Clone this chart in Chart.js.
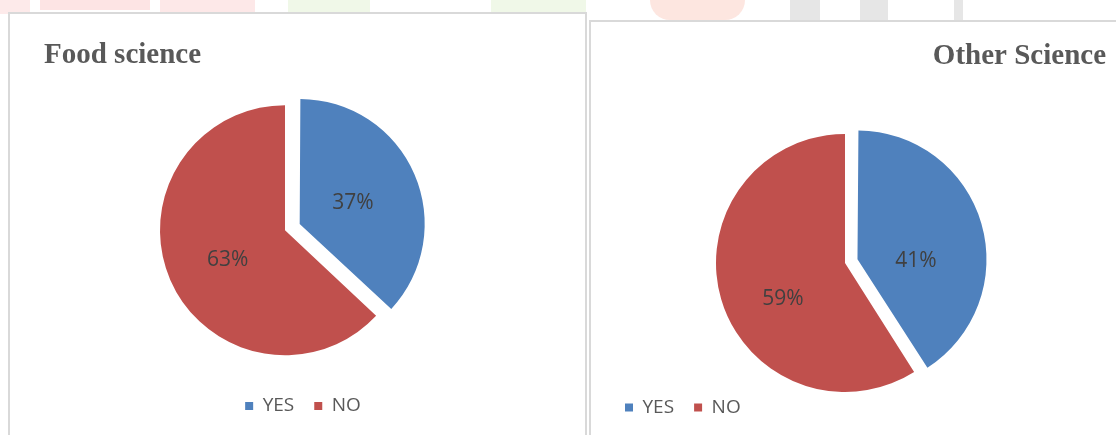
<!DOCTYPE html>
<html><head><meta charset="utf-8">
<script src="https://cdn.jsdelivr.net/npm/chart.js@4.4.1/dist/chart.umd.min.js"></script>
<style>
html,body{margin:0;padding:0;background:#fff;width:1116px;height:435px;overflow:hidden;position:relative}
.wm{position:absolute;top:0}
.box{position:absolute;background:#fff;border:2px solid #d9d9d9;box-sizing:border-box;overflow:hidden}
#boxA{left:8px;top:12px;width:579px;height:440px}
#boxB{left:589px;top:20px;width:540px;height:440px}
canvas{display:block}
</style></head><body>
<div class="wm" style="left:0;width:30px;height:14px;background:#fdeaea"></div>
<div class="wm" style="left:40px;width:110px;height:10px;background:#fde4e4"></div>
<div class="wm" style="left:160px;width:95px;height:12px;background:#fde8e8"></div>
<div class="wm" style="left:288px;width:82px;height:14px;background:#f0f8e8"></div>
<div class="wm" style="left:491px;width:95px;height:14px;background:#f0f8e8"></div>
<div class="wm" style="left:650px;width:95px;height:20px;background:#fde6e0;border-radius:0 0 45px 45px"></div>
<div class="wm" style="left:790px;width:30px;height:20px;background:#e6e6e6"></div>
<div class="wm" style="left:860px;width:28px;height:20px;background:#e6e6e6"></div>
<div class="wm" style="left:954px;width:9px;height:20px;background:#e6e6e6"></div>
<div class="box" id="boxA"><canvas id="cA" width="575" height="421"></canvas></div>
<div class="box" id="boxB"><canvas id="cB" width="525" height="413"></canvas></div>
<script>
const categories = ['YES', 'NO'];
const foodScience = [37, 63];
const otherScience = [41, 59];
const sliceColors = ['#4F81BD', '#C0504D'];

Chart.defaults.font.family = "'Open Sans', sans-serif";
Chart.defaults.animation = false;

// keep exploded slice same radius as the rest (Chart.js enlarges it slightly)
const keepRadius = {
  id: 'keepRadius',
  afterDatasetsUpdate(chart) {
    const meta = chart.getDatasetMeta(0);
    meta.data.forEach(arc => {
      const off = (arc.options.offset || 0) / 4;
      if (off) {
        const fix = 1 - Math.sin(Math.min(Math.PI, arc.circumference || 0));
        arc.outerRadius -= off * fix;
      }
    });
  }
};

const pctLabels = {
  id: 'pctLabels',
  afterDatasetsDraw(chart, args, opts) {
    const {ctx} = chart;
    const meta = chart.getDatasetMeta(0);
    const vals = chart.data.datasets[0].data;
    const total = vals.reduce((a, b) => a + b, 0);
    const size = 21;
    ctx.save();
    ctx.font = size + "px 'Open Sans'";
    ctx.fillStyle = '#404040';
    ctx.textAlign = 'center';
    ctx.textBaseline = 'alphabetic';
    meta.data.forEach((arc, i) => {
      const mid = (arc.startAngle + arc.endAngle) / 2;
      const shift = (arc.options.offset || 0) / 4;
      const cx = arc.x + Math.cos(mid) * shift;
      const cy = arc.y + Math.sin(mid) * shift;
      const spot = opts.at[i];
      const a = spot.angle * Math.PI / 180;
      const d = spot.r * arc.outerRadius;
      const x = cx + Math.sin(a) * d;
      const y = cy - Math.cos(a) * d;
      ctx.fillText(Math.round(vals[i] / total * 100) + '%', x, y + size * 0.357);
    });
    ctx.restore();
  }
};

function makePie(id, titleText, values, p) {
  return new Chart(document.getElementById(id), {
    type: 'pie',
    data: {
      labels: categories,
      datasets: [{
        data: values,
        backgroundColor: sliceColors,
        borderWidth: 0,
        offset: [p.explode * 4, 0],
        radius: p.radius
      }]
    },
    options: {
      responsive: false,
      radius: p.radius,
      layout: {padding: p.pad},
      plugins: {
        title: {
          display: true, text: titleText, align: p.titleAlign, color: '#595959',
          font: {family: "'Liberation Serif', 'Times New Roman', serif", size: 29, weight: 'bold', lineHeight: 1.2},
          padding: p.titlePad
        },
        subtitle: {
          display: true, text: '', position: 'right',
          font: {size: p.rightGap, lineHeight: 1}, padding: 0
        },
        legend: {
          position: 'bottom', align: p.legendAlign,
          labels: {boxWidth: 8, boxHeight: 8, padding: 20, color: '#595959', font: {size: 19}}
        },
        tooltip: {enabled: false},
        pctLabels: {at: p.labelAt}
      }
    },
    plugins: [keepRadius, pctLabels]
  });
}

makePie('cA', 'Food science', foodScience, {
  explode: 16, radius: 125, titleAlign: 'start', legendAlign: 'center',
  pad: {left: 34, right: 23, top: 0, bottom: 9.5},
  titlePad: {top: 24, bottom: 11.2}, rightGap: 36,
  labelAt: [{angle: 67, r: 0.48}, {angle: 244, r: 0.51}]
});
makePie('cB', 'Other Science', otherScience, {
  explode: 13, radius: 129, titleAlign: 'end', legendAlign: 'start',
  pad: {left: 14, right: 10, top: 0, bottom: 8},
  titlePad: {top: 17, bottom: 74.2}, rightGap: 21,
  labelAt: [{angle: 90, r: 0.475}, {angle: 241, r: 0.55}]
});
</script>
</body></html>
